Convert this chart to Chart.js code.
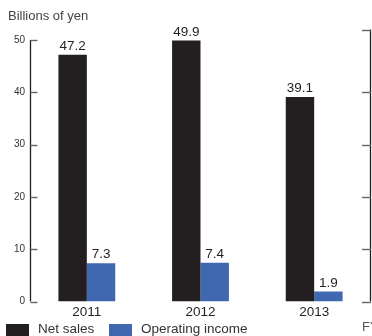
<!DOCTYPE html>
<html>
<head>
<meta charset="utf-8">
<script src="https://cdn.jsdelivr.net/npm/chart.js@4/dist/chart.umd.min.js"></script>
<style>
  html, body { margin: 0; padding: 0; background: #ffffff; overflow: hidden; }
  #wrap { width: 372px; height: 336px; position: relative; }
</style>
</head>
<body>
<div id="wrap"><canvas id="chart" width="372" height="336"></canvas></div>
<script>
// Fiscal years and results (billions of yen)
const years = ['2011', '2012', '2013'];
const netSales = [47.2, 49.9, 39.1];
const operatingIncome = [7.3, 7.4, 1.9];
const seriesNames = ['Net sales', 'Operating income'];
const yTicks = [0, 10, 20, 30, 40, 50];

const FONT = '"Liberation Sans", Arial, Helvetica, sans-serif';
const BLACK = '#231f20';
const BLUE = '#4068b0';

// Frame, inward ticks, value labels, unit caption, legend
const decorations = {
  id: 'decorations',
  afterDatasetsDraw(chart) {
    const { ctx, chartArea: a } = chart;
    const y = chart.scales.y;
    ctx.save();

    // axis lines: left spans the scale, right rises a little higher
    const leftTop = y.getPixelForValue(50);
    const rightTop = y.getPixelForValue(52);
    ctx.strokeStyle = BLACK;
    ctx.lineWidth = 1.3;
    ctx.beginPath();
    ctx.moveTo(a.left + 0.5, leftTop);
    ctx.lineTo(a.left + 0.5, a.bottom);
    ctx.moveTo(a.right - 0.5, rightTop);
    ctx.lineTo(a.right - 0.5, a.bottom);
    ctx.stroke();

    // inward tick marks on both sides
    ctx.strokeStyle = '#666666';
    ctx.lineWidth = 1.4;
    yTicks.forEach(v => {
      const py = Math.round(y.getPixelForValue(v)) + 0.5;
      ctx.beginPath();
      ctx.moveTo(a.left + 0.5, py);
      ctx.lineTo(a.left + 7.5, py);
      ctx.stroke();
    });
    [0, 10, 20, 30, 40].forEach(v => {
      const py = Math.round(y.getPixelForValue(v)) + 0.5;
      ctx.beginPath();
      ctx.moveTo(a.right - 9, py);
      ctx.lineTo(a.right, py);
      ctx.stroke();
    });
    ctx.beginPath();
    ctx.moveTo(a.right - 9, Math.round(rightTop) + 0.5);
    ctx.lineTo(a.right, Math.round(rightTop) + 0.5);
    ctx.stroke();

    // value labels above bars
    ctx.fillStyle = BLACK;
    ctx.font = '13.5px ' + FONT;
    ctx.textAlign = 'center';
    ctx.textBaseline = 'alphabetic';
    chart.data.datasets.forEach((ds, di) => {
      const meta = chart.getDatasetMeta(di);
      meta.data.forEach((bar, i) => {
        ctx.fillText(ds.data[i].toFixed(1), bar.x, bar.y - 5);
      });
    });

    // unit caption
    ctx.fillStyle = '#444444';
    ctx.textAlign = 'left';
    ctx.font = '13px ' + FONT;
    ctx.fillText('Billions of yen', 8, 20);

    // fiscal-year marker
    ctx.fillStyle = '#555555';
    ctx.font = '13px ' + FONT;
    ctx.textBaseline = 'middle';
    ctx.fillText('FY', 362, 327);

    // legend
    const items = [
      { x: 6, color: BLACK, text: seriesNames[0] },
      { x: 109, color: BLUE, text: seriesNames[1] }
    ];
    ctx.font = '13.5px ' + FONT;
    items.forEach(it => {
      ctx.fillStyle = it.color;
      ctx.fillRect(it.x, 324, 23, 16);
      ctx.fillStyle = '#333333';
      ctx.fillText(it.text, it.x + 32, 329);
    });

    ctx.restore();
  }
};

new Chart(document.getElementById('chart'), {
  type: 'bar',
  data: {
    labels: years,
    datasets: [
      { label: seriesNames[0], data: netSales, backgroundColor: BLACK },
      { label: seriesNames[1], data: operatingIncome, backgroundColor: BLUE }
    ]
  },
  options: {
    responsive: false,
    animation: false,
    devicePixelRatio: 1,
    layout: { padding: { top: 40, right: 1, left: 0, bottom: 0 } },
    datasets: { bar: { categoryPercentage: 0.5, barPercentage: 1.0, borderWidth: 0 } },
    plugins: {
      legend: { display: false },
      tooltip: { enabled: false },
      title: { display: false }
    },
    scales: {
      x: {
        grid: { display: false, drawTicks: false },
        border: { display: false },
        ticks: { font: { family: FONT, size: 13.5 }, color: BLACK, padding: 3 },
        afterFit(scale) { scale.height = 34.5; }
      },
      y: {
        min: 0,
        max: 50,
        afterBuildTicks(scale) { scale.ticks = yTicks.map(v => ({ value: v })); },
        grid: { display: false, drawTicks: false },
        border: { display: false },
        ticks: { font: { family: FONT, size: 10 }, color: '#333333', padding: 5 },
        afterFit(scale) { scale.width = 30; }
      }
    }
  },
  plugins: [decorations]
});
</script>
</body>
</html>
